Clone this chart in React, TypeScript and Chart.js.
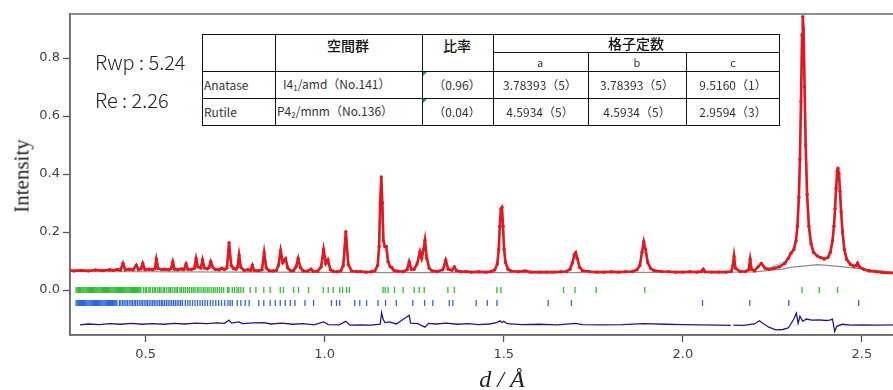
import React, { useEffect, useRef } from "react";
import { Chart, registerables } from "chart.js";

Chart.register(...registerables);

// ---- data (d-spacing in Å, intensity) ----
const observed: [number, number][] = [
  [0.289, 0.068], [0.3, 0.066], [0.32, 0.068], [0.34, 0.066], [0.36, 0.069], [0.38, 0.067], [0.4, 0.07], [0.41, 0.068],
  [0.42, 0.071], [0.43, 0.069], [0.437, 0.092], [0.443, 0.07], [0.455, 0.072], [0.465, 0.07], [0.474, 0.086], [0.48, 0.071],
  [0.487, 0.073], [0.492, 0.092], [0.498, 0.071], [0.51, 0.072], [0.52, 0.07], [0.526, 0.074], [0.53, 0.106], [0.535, 0.074],
  [0.545, 0.071], [0.555, 0.072], [0.565, 0.07], [0.571, 0.074], [0.576, 0.098], [0.581, 0.072], [0.59, 0.07], [0.6, 0.073],
  [0.607, 0.071], [0.613, 0.09], [0.618, 0.072], [0.628, 0.071], [0.636, 0.075], [0.641, 0.109], [0.646, 0.08], [0.654, 0.076],
  [0.659, 0.104], [0.664, 0.076], [0.672, 0.073], [0.677, 0.078], [0.682, 0.098], [0.687, 0.08], [0.694, 0.072], [0.705, 0.07],
  [0.713, 0.075], [0.72, 0.071], [0.727, 0.076], [0.733, 0.163], [0.739, 0.085], [0.745, 0.075], [0.752, 0.072], [0.757, 0.08],
  [0.761, 0.121], [0.766, 0.078], [0.775, 0.068], [0.785, 0.07], [0.793, 0.068], [0.798, 0.085], [0.803, 0.068], [0.815, 0.067],
  [0.825, 0.07], [0.831, 0.129], [0.837, 0.076], [0.845, 0.067], [0.855, 0.066], [0.865, 0.068], [0.871, 0.085], [0.877, 0.136],
  [0.883, 0.095], [0.891, 0.108], [0.897, 0.076], [0.905, 0.066], [0.913, 0.067], [0.92, 0.08], [0.926, 0.109], [0.932, 0.078],
  [0.94, 0.066], [0.952, 0.065], [0.962, 0.072], [0.968, 0.064], [0.98, 0.065], [0.99, 0.08], [0.997, 0.14], [1.003, 0.092],
  [1.009, 0.105], [1.016, 0.07], [1.025, 0.064], [1.035, 0.063], [1.045, 0.066], [1.052, 0.085], [1.059, 0.201], [1.066, 0.088],
  [1.075, 0.066], [1.09, 0.063], [1.1, 0.064], [1.115, 0.062], [1.13, 0.063], [1.14, 0.066], [1.148, 0.085], [1.152, 0.15],
  [1.155, 0.3], [1.158, 0.39], [1.161, 0.3], [1.164, 0.17], [1.168, 0.15], [1.172, 0.15], [1.177, 0.098], [1.183, 0.08],
  [1.187, 0.078], [1.193, 0.068], [1.205, 0.065], [1.22, 0.064], [1.23, 0.07], [1.236, 0.098], [1.242, 0.072], [1.25, 0.072],
  [1.258, 0.09], [1.266, 0.132], [1.271, 0.11], [1.276, 0.14], [1.28, 0.172], [1.285, 0.11], [1.292, 0.075], [1.3, 0.066],
  [1.315, 0.064], [1.33, 0.07], [1.338, 0.103], [1.345, 0.072], [1.355, 0.068], [1.362, 0.08], [1.368, 0.067], [1.38, 0.063],
  [1.395, 0.064], [1.41, 0.062], [1.43, 0.063], [1.45, 0.062], [1.465, 0.064], [1.475, 0.07], [1.482, 0.09], [1.486, 0.14],
  [1.489, 0.22], [1.492, 0.28], [1.495, 0.285], [1.498, 0.22], [1.501, 0.14], [1.505, 0.095], [1.512, 0.072], [1.52, 0.066],
  [1.54, 0.063], [1.56, 0.066], [1.575, 0.062], [1.6, 0.062], [1.62, 0.062], [1.64, 0.062], [1.66, 0.063], [1.675, 0.064],
  [1.685, 0.072], [1.692, 0.095], [1.697, 0.122], [1.701, 0.129], [1.705, 0.11], [1.712, 0.078], [1.72, 0.067], [1.74, 0.063],
  [1.76, 0.062], [1.78, 0.062], [1.8, 0.063], [1.82, 0.062], [1.84, 0.063], [1.86, 0.064], [1.872, 0.07], [1.88, 0.085],
  [1.886, 0.13], [1.891, 0.167], [1.896, 0.14], [1.902, 0.095], [1.91, 0.075], [1.92, 0.067], [1.94, 0.064], [1.96, 0.063],
  [1.98, 0.062], [2.0, 0.062], [2.02, 0.063], [2.04, 0.062], [2.052, 0.064], [2.057, 0.072], [2.062, 0.063], [2.08, 0.062],
  [2.1, 0.062], [2.12, 0.062], [2.135, 0.064], [2.14, 0.085], [2.143, 0.117], [2.147, 0.075], [2.16, 0.064], [2.175, 0.064],
  [2.184, 0.07], [2.188, 0.106], [2.192, 0.072], [2.2, 0.066], [2.21, 0.08], [2.219, 0.092], [2.23, 0.075], [2.24, 0.072],
  [2.255, 0.075], [2.27, 0.08], [2.285, 0.092], [2.295, 0.11], [2.302, 0.127], [2.31, 0.14], [2.316, 0.17], [2.32, 0.22],
  [2.324, 0.32], [2.327, 0.45], [2.33, 0.65], [2.333, 0.88], [2.335, 0.943], [2.337, 0.9], [2.34, 0.7], [2.343, 0.5],
  [2.347, 0.33], [2.352, 0.22], [2.358, 0.16], [2.365, 0.13], [2.375, 0.118], [2.385, 0.112], [2.395, 0.107], [2.405, 0.112],
  [2.412, 0.13], [2.418, 0.17], [2.422, 0.22], [2.425, 0.28], [2.428, 0.35], [2.431, 0.41], [2.433, 0.42], [2.436, 0.4],
  [2.439, 0.34], [2.442, 0.27], [2.446, 0.2], [2.451, 0.14], [2.458, 0.105], [2.468, 0.088], [2.478, 0.082], [2.484, 0.085],
  [2.488, 0.093], [2.493, 0.08], [2.505, 0.072], [2.52, 0.066], [2.54, 0.063], [2.56, 0.06], [2.6, 0.058],
];

// calculated profile where it departs visibly from the observed one
const calcDeviation: [number, number][] = [
  [2.24, 0.074], [2.255, 0.083], [2.27, 0.089], [2.285, 0.099], [2.295, 0.113],
];

const background: [number, number][] = [
  [0.289, 0.064], [0.8, 0.062], [1.2, 0.06], [1.6, 0.06], [2.0, 0.061], [2.2, 0.063], [2.28, 0.072], [2.3, 0.078],
  [2.377, 0.088], [2.45, 0.08], [2.49, 0.074], [2.6, 0.06],
];

const difference: [number, number | null][] = [
  [0.317, -0.12], [0.34, -0.117], [0.37, -0.119], [0.4, -0.116], [0.43, -0.118], [0.46, -0.115], [0.49, -0.118], [0.52, -0.116],
  [0.55, -0.118], [0.58, -0.115], [0.61, -0.117], [0.64, -0.114], [0.67, -0.116], [0.7, -0.113], [0.72, -0.115], [0.733, -0.104],
  [0.74, -0.114], [0.76, -0.11], [0.77, -0.116], [0.8, -0.113], [0.83, -0.112], [0.85, -0.117], [0.88, -0.114], [0.91, -0.118],
  [0.94, -0.116], [0.97, -0.12], [0.997, -0.11], [1.01, -0.119], [1.04, -0.12], [1.059, -0.108], [1.07, -0.121], [1.1, -0.12],
  [1.13, -0.121], [1.155, -0.118], [1.159, -0.078], [1.163, -0.1], [1.168, -0.112], [1.18, -0.11], [1.2, -0.117], [1.236, -0.087],
  [1.24, -0.114], [1.26, -0.116], [1.28, -0.128], [1.29, -0.115], [1.31, -0.117], [1.34, -0.114], [1.37, -0.118], [1.4, -0.116],
  [1.43, -0.119], [1.46, -0.117], [1.48, -0.112], [1.49, -0.106], [1.495, -0.112], [1.5, -0.108], [1.51, -0.116], [1.55, -0.119],
  [1.6, -0.118], [1.65, -0.12], [1.7, -0.115], [1.72, -0.119], [1.78, -0.12], [1.83, -0.119], [1.89, -0.116], [1.95, -0.118],
  [2.0, -0.119], [2.05, -0.12], [2.1, -0.121], [2.134, -0.122], [2.137, null], [2.141, -0.121], [2.17, -0.122], [2.2, -0.117],
  [2.214, -0.106], [2.225, -0.116], [2.24, -0.128], [2.26, -0.137], [2.28, -0.136], [2.295, -0.13], [2.31, -0.1], [2.317, -0.08],
  [2.322, -0.115], [2.327, -0.09], [2.335, -0.108], [2.345, -0.1], [2.36, -0.104], [2.38, -0.103], [2.4, -0.105], [2.41, -0.104],
  [2.418, -0.1], [2.424, -0.143], [2.43, -0.125], [2.445, -0.118], [2.47, -0.121], [2.5, -0.12], [2.54, -0.121], [2.6, -0.12],
];

const anataseTicks: number[] = [
  0.306, 0.309, 0.313, 0.316, 0.318, 0.322, 0.325, 0.327, 0.331, 0.334, 0.337, 0.34, 0.343, 0.346, 0.349, 0.352, 0.355, 0.358,
  0.361, 0.364, 0.367, 0.37, 0.373, 0.376, 0.379, 0.382, 0.385, 0.388, 0.391, 0.394, 0.397, 0.4, 0.403, 0.406, 0.409, 0.412,
  0.415, 0.418, 0.421, 0.424, 0.427, 0.43, 0.433, 0.436, 0.439, 0.442, 0.445, 0.448, 0.451, 0.454, 0.457, 0.46, 0.463, 0.466,
  0.469, 0.472, 0.475, 0.478, 0.481, 0.484, 0.487,
  0.494, 0.499, 0.503, 0.509, 0.513, 0.519, 0.524, 0.528, 0.534, 0.539, 0.543, 0.549, 0.553, 0.559, 0.565, 0.569, 0.574, 0.58,
  0.585, 0.589, 0.596, 0.6, 0.606, 0.611, 0.617, 0.622, 0.628, 0.633, 0.638, 0.644, 0.649, 0.655, 0.661, 0.666, 0.672, 0.677,
  0.683, 0.689, 0.694, 0.7, 0.706, 0.712, 0.718,
  0.729, 0.733, 0.742, 0.748, 0.755, 0.76, 0.766, 0.773, 0.792, 0.808, 0.83, 0.848, 0.876, 0.885, 0.913, 0.927, 0.955, 0.996,
  1.01, 1.024, 1.042, 1.05, 1.061, 1.069, 1.163, 1.169, 1.177, 1.195, 1.219, 1.25, 1.264, 1.278, 1.344, 1.362, 1.481, 1.492,
  1.667, 1.699, 1.758, 1.894, 2.333, 2.381, 2.432,
];

const rutileTicks: number[] = [
  0.306, 0.309, 0.312, 0.315, 0.318, 0.321, 0.324, 0.327, 0.33, 0.333, 0.336, 0.339, 0.342, 0.345, 0.348, 0.351, 0.354, 0.357,
  0.36, 0.363, 0.366, 0.369, 0.372, 0.375, 0.378, 0.381, 0.384, 0.387, 0.39, 0.393, 0.396, 0.399, 0.402, 0.405, 0.408, 0.411,
  0.414, 0.417, 0.42,
  0.427, 0.431, 0.436, 0.44, 0.445, 0.449, 0.454, 0.459, 0.463, 0.468, 0.472, 0.477, 0.482, 0.487, 0.491, 0.496, 0.501, 0.505,
  0.51, 0.515, 0.52, 0.524, 0.529, 0.534, 0.539, 0.544, 0.548, 0.553, 0.558, 0.563, 0.568, 0.573, 0.578, 0.583, 0.588, 0.593,
  0.598, 0.603,
  0.611, 0.618, 0.624, 0.631, 0.638, 0.645, 0.652, 0.659, 0.666, 0.673, 0.681, 0.688, 0.696, 0.704, 0.712, 0.721, 0.73, 0.736,
  0.742, 0.756, 0.766, 0.778, 0.789,
  0.816, 0.83, 0.848, 0.862, 0.876, 0.89, 0.904, 0.917, 0.945, 0.969, 1.019, 1.033, 1.042, 1.084, 1.098, 1.117, 1.149, 1.17,
  1.2, 1.246, 1.279, 1.302, 1.348, 1.358, 1.423, 1.454, 1.481, 1.624, 1.689, 2.055, 2.187, 2.296, 2.491,
];

const anataseTickLevel = 0.0;
const rutileTickLevel = -0.045;

const yTickValues = [0, 0.2, 0.4, 0.6, 0.8];
const xTickValues = [0.5, 1.0, 1.5, 2.0, 2.5];

const fitStats = ["Rwp : 5.24", "Re : 2.26"];

const tableRows = [
  { phase: "Anatase", sgMain: "I4", sgSub: "1", sgRest: "/amd（No.141）", ratio: "（0.96）", a: "3.78393（5）", b: "3.78393（5）", c: "9.5160（1）" },
  { phase: "Rutile", sgMain: "P4", sgSub: "2", sgRest: "/mnm（No.136）", ratio: "（0.04）", a: "4.5934（5）", b: "4.5934（5）", c: "2.9594（3）" },
];

// ---- layout constants ----
const X_MIN = 0.2889;
const X_MAX = 2.6;
const Y_MIN = -0.155;
const Y_MAX = 0.952;

const framePlugin = {
  id: "frame",
  afterDraw(chart: any) {
    const { ctx, chartArea } = chart;
    ctx.save();
    ctx.strokeStyle = "#6a6a6a";
    ctx.lineWidth = 1.5;
    ctx.strokeRect(chartArea.left, chartArea.top, chartArea.right - chartArea.left, chartArea.bottom - chartArea.top);
    ctx.restore();
  },
};

const toXY = (arr: [number, number | null][]) => arr.map(([x, y]) => ({ x, y }));

function RietveldChart() {
  const ref = useRef<HTMLCanvasElement | null>(null);
  useEffect(() => {
    if (!ref.current) return;
    const lo = calcDeviation[0][0];
    const hi = calcDeviation[calcDeviation.length - 1][0];
    const calc = [
      ...observed.filter(([x]) => x < lo),
      ...calcDeviation,
      ...observed.filter(([x]) => x > hi),
    ];
    const chart = new Chart(ref.current, {
      type: "scatter",
      data: {
        datasets: [
          {
            label: "obs",
            data: toXY(observed),
            showLine: true,
            borderColor: "#e8161c",
            borderWidth: 2.6,
            pointRadius: 1.7,
            pointBackgroundColor: "#e8161c",
            pointBorderWidth: 0,
            order: 1,
          },
          {
            label: "calc",
            data: toXY(calc),
            showLine: true,
            borderColor: "#7fdde6",
            borderWidth: 2,
            pointRadius: 0,
            order: 2,
          },
          {
            label: "bg",
            data: toXY(background),
            showLine: true,
            borderColor: "#8c8c8c",
            borderWidth: 1.2,
            pointRadius: 0,
            order: 3,
          },
          {
            label: "anatase",
            data: anataseTicks.map((x) => ({ x, y: anataseTickLevel })),
            showLine: false,
            pointStyle: "line",
            rotation: 90,
            pointRadius: 3,
            borderColor: "#2ebd2e",
            backgroundColor: "#2ebd2e",
            pointBorderWidth: 1.3,
            order: 4,
          },
          {
            label: "rutile",
            data: rutileTicks.map((x) => ({ x, y: rutileTickLevel })),
            showLine: false,
            pointStyle: "line",
            rotation: 90,
            pointRadius: 3,
            borderColor: "#2f66dd",
            backgroundColor: "#2f66dd",
            pointBorderWidth: 1.3,
            order: 4,
          },
          {
            label: "diff",
            data: toXY(difference),
            showLine: true,
            spanGaps: false,
            borderColor: "#1c1c88",
            borderWidth: 1.3,
            pointRadius: 0,
            order: 5,
          },
        ],
      },
      options: {
        animation: false,
        responsive: false,
        devicePixelRatio: 1,
        layout: { padding: { left: 0, right: 1, top: 14, bottom: 0 } },
        plugins: { legend: { display: false }, tooltip: { enabled: false } },
        scales: {
          x: {
            type: "linear",
            min: X_MIN,
            max: X_MAX,
            afterFit: (s: any) => { s.height = 55; },
            afterBuildTicks: (s: any) => { s.ticks = xTickValues.map((v) => ({ value: v })); },
            ticks: {
              callback: (v: any) => Number(v).toFixed(1),
              font: { family: "DejaVu Sans", size: 13 },
              color: "#444",
              padding: 5,
              maxRotation: 0,
            },
            grid: { drawOnChartArea: false, drawTicks: true, tickLength: 7, color: "#555", tickColor: "#555", tickWidth: 1.3 },
            border: { display: true, color: "#6a6a6a", width: 1.5 },
          },
          y: {
            type: "linear",
            min: Y_MIN,
            max: Y_MAX,
            afterFit: (s: any) => { s.width = 70; },
            afterBuildTicks: (s: any) => { s.ticks = yTickValues.map((v) => ({ value: v })); },
            ticks: {
              callback: (v: any) => Number(v).toFixed(1),
              font: { family: "DejaVu Sans", size: 13 },
              color: "#444",
              padding: 3,
            },
            grid: { drawOnChartArea: false, drawTicks: true, tickLength: 7, color: "#555", tickColor: "#555", tickWidth: 1.3 },
            border: { display: true, color: "#6a6a6a", width: 1.5 },
          },
        },
      },
      plugins: [framePlugin],
    } as any);
    return () => chart.destroy();
  }, []);
  return <canvas ref={ref} width={903} height={390} style={{ position: "absolute", left: 0, top: 0 }} />;
}

const cellFont = '"Noto Sans CJK JP", "Noto Sans", sans-serif';

function Txt({ x, y, children, align = "center", size = 12, weight = 400, color = "#333" }: any) {
  const tx = align === "center" ? "-50%" : "0";
  return (
    <div
      style={{
        position: "absolute",
        left: x,
        top: y,
        transform: `translate(${tx}, -50%)`,
        fontFamily: cellFont,
        fontSize: size,
        fontWeight: weight,
        color,
        whiteSpace: "nowrap",
        lineHeight: 1,
      }}
    >
      {children}
    </div>
  );
}

function HLine({ x1, x2, y }: any) {
  return <div style={{ position: "absolute", left: x1, top: y, width: x2 - x1, height: 1, background: "#111" }} />;
}
function VLine({ x, y1, y2 }: any) {
  return <div style={{ position: "absolute", left: x, top: y1, width: 1, height: y2 - y1, background: "#111" }} />;
}

function LatticeTable() {
  const colX = [202, 275, 422, 493, 588, 686, 780];
  const rowY = [34, 52, 71, 98, 126];
  const rowMid = [85, 112];
  return (
    <>
      <div
        style={{
          position: "absolute",
          left: colX[0],
          top: rowY[0],
          width: colX[6] - colX[0],
          height: rowY[4] - rowY[0],
          background: "#fff",
          border: "1.5px solid #111",
          boxSizing: "border-box",
        }}
      />
      <HLine x1={colX[3]} x2={colX[6]} y={rowY[1]} />
      <HLine x1={colX[0]} x2={colX[6]} y={rowY[2]} />
      <HLine x1={colX[0]} x2={colX[6]} y={rowY[3]} />
      <VLine x={colX[1]} y1={rowY[0]} y2={rowY[4]} />
      <VLine x={colX[2]} y1={rowY[0]} y2={rowY[4]} />
      <VLine x={colX[3]} y1={rowY[0]} y2={rowY[4]} />
      <VLine x={colX[4]} y1={rowY[1]} y2={rowY[4]} />
      <VLine x={colX[5]} y1={rowY[1]} y2={rowY[4]} />
      <Txt x={348} y={45} size={14} weight={500} color="#111">空間群</Txt>
      <Txt x={457} y={45} size={14} weight={500} color="#111">比率</Txt>
      <Txt x={636} y={43} size={14} weight={500} color="#111">格子定数</Txt>
      <Txt x={540} y={62} size={11}>a</Txt>
      <Txt x={637} y={62} size={11}>b</Txt>
      <Txt x={733} y={62} size={11}>c</Txt>
      {tableRows.map((r, i) => (
        <React.Fragment key={r.phase}>
          <Txt x={204} y={rowMid[i]} align="left" size={12}>{r.phase}</Txt>
          <Txt x={i === 0 ? 283 : 277} y={rowMid[i]} align="left" size={12}>
            {r.sgMain}
            <span style={{ fontSize: 8, verticalAlign: "-2px" }}>{r.sgSub}</span>
            {r.sgRest}
          </Txt>
          <Txt x={457} y={rowMid[i]} size={12}>{r.ratio}</Txt>
          <Txt x={540} y={rowMid[i]} size={12}>{r.a}</Txt>
          <Txt x={637} y={rowMid[i]} size={12}>{r.b}</Txt>
          <Txt x={733} y={rowMid[i]} size={12}>{r.c}</Txt>
          <div
            style={{
              position: "absolute",
              left: colX[2] + 1,
              top: rowY[2 + i] + 1,
              width: 0,
              height: 0,
              borderTop: "4px solid #1f9a3a",
              borderRight: "4px solid transparent",
            }}
          />
        </React.Fragment>
      ))}
    </>
  );
}

export default function App() {
  useEffect(() => {
    document.body.style.margin = "0";
    document.body.style.overflow = "hidden";
  }, []);
  return (
    <div style={{ position: "fixed", left: 0, top: 0, width: 893, height: 390, overflow: "hidden", background: "#fff" }}>
      <div style={{ position: "absolute", left: 0, top: 0, width: 903, height: 390 }}>
        <RietveldChart />
        <LatticeTable />
        <div style={{ position: "absolute", left: 95, top: 49, fontFamily: cellFont, fontSize: 20, fontWeight: 300, color: "#222", lineHeight: "26px", whiteSpace: "pre" }}>
          {fitStats[0]}
        </div>
        <div style={{ position: "absolute", left: 95, top: 87, fontFamily: cellFont, fontSize: 20, fontWeight: 300, color: "#222", lineHeight: "26px", whiteSpace: "pre" }}>
          {fitStats[1]}
        </div>
        <div
          style={{
            position: "absolute",
            left: 22,
            top: 176,
            transform: "translate(-50%, -50%) rotate(-90deg)",
            fontFamily: '"Liberation Serif", serif',
            fontSize: 21,
            color: "#222",
            whiteSpace: "nowrap",
          }}
        >
          Intensity
        </div>
        <div
          style={{
            position: "absolute",
            left: 502,
            top: 379,
            transform: "translate(-50%, -50%)",
            fontFamily: '"Liberation Serif", serif',
            fontStyle: "italic",
            fontSize: 24,
            color: "#222",
            whiteSpace: "nowrap",
          }}
        >
          d / Å
        </div>
      </div>
    </div>
  );
}
